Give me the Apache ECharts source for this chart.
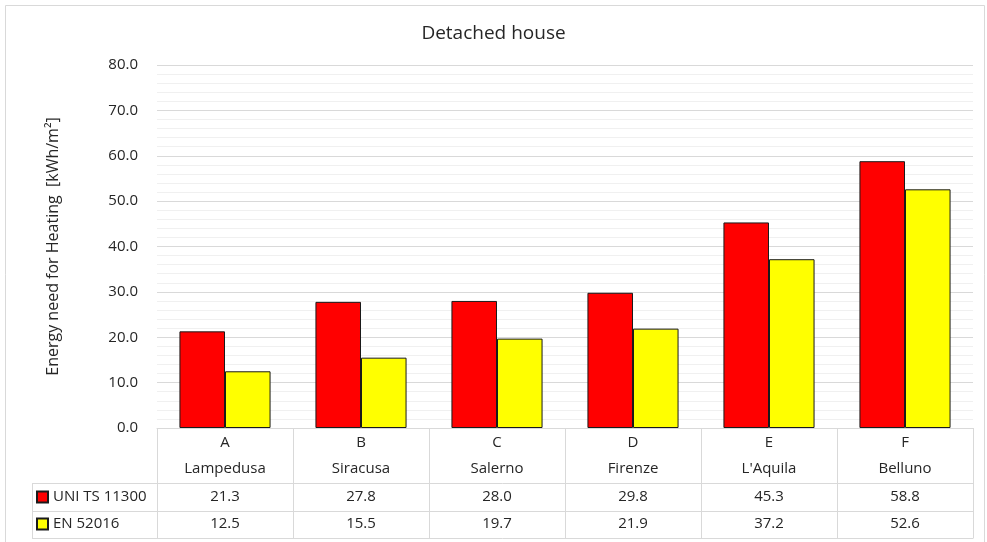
<!DOCTYPE html>
<html>
<head>
<meta charset="utf-8">
<script src="https://cdn.jsdelivr.net/npm/echarts@6/dist/echarts.min.js"></script>
<style>html,body{margin:0;padding:0;background:#fff}#c{width:987px;height:542px}</style>
</head>
<body>
<div id="c"></div>
<script>
const categories = ['A', 'B', 'C', 'D', 'E', 'F'];
const cities = ['Lampedusa', 'Siracusa', 'Salerno', 'Firenze', "L'Aquila", 'Belluno'];
const uniValues = [21.3, 27.8, 28.0, 29.8, 45.3, 58.8];
const enValues = [12.5, 15.5, 19.7, 21.9, 37.2, 52.6];
const seriesNames = ['UNI TS 11300', 'EN 52016'];
const seriesColors = ['#ff0000', '#ffff00'];
const yTicks = { min: 0, max: 80, interval: 10 };

const FONT = 'Open Sans';
const TXT = '#262626';
const LINE = '#d9d9d9';

const chart = echarts.init(document.getElementById('c'));
chart.setOption({
  animation: false,
  backgroundColor: '#fff',
  textStyle: { fontFamily: FONT },
  title: {
    text: 'Detached house', left: 'center', top: 19,
    textStyle: { fontFamily: FONT, fontSize: 19, fontWeight: 'normal', color: TXT }
  },
  grid: { left: 157, right: 14, top: 65, bottom: 114, containLabel: false },
  legend: {
    orient: 'vertical', left: 36, top: 487,
    itemWidth: 11, itemHeight: 11, itemGap: 7,
    icon: 'rect', padding: 0,
    textStyle: { fontFamily: FONT, fontSize: 15, color: TXT, lineHeight: 20 },
    data: seriesNames
  },
  xAxis: {
    type: 'category', data: categories,
    axisLine: { lineStyle: { color: LINE } },
    axisTick: { show: false },
    axisLabel: { show: false },
    splitLine: { show: false }
  },
  yAxis: {
    type: 'value', min: yTicks.min, max: yTicks.max, interval: yTicks.interval,
    name: 'Energy need for Heating  [kWh/m²]', nameLocation: 'middle', nameGap: 96,
    nameTextStyle: { fontFamily: FONT, fontSize: 16, color: TXT },
    axisLine: { show: false }, axisTick: { show: false },
    axisLabel: { formatter: v => v.toFixed(1), fontFamily: FONT, fontSize: 15, color: TXT, margin: 19 },
    splitLine: { lineStyle: { color: LINE, width: 1 } },
    minorTick: { show: false, splitNumber: 5 },
    minorSplitLine: { show: true, lineStyle: { color: '#f0f0f0', width: 1 } }
  },
  series: [
    { name: seriesNames[0], type: 'bar', data: uniValues, barGap: '0%', barCategoryGap: '33%',
      itemStyle: { color: seriesColors[0], borderColor: '#1a1a1a', borderWidth: 1 } },
    { name: seriesNames[1], type: 'bar', data: enValues,
      itemStyle: { color: seriesColors[1], borderColor: '#1a1a1a', borderWidth: 1 } }
  ]
});

function drawTable() {
  const p0 = chart.convertToPixel({ xAxisIndex: 0 }, 0);
  const p1 = chart.convertToPixel({ xAxisIndex: 0 }, 1);
  const cw = p1 - p0;
  const left = p0 - cw / 2;
  const right = left + categories.length * cw;
  const yTop = chart.convertToPixel({ yAxisIndex: 0 }, 0);
  const legLeft = 32;
  const rows = [55, 83, 110];
  const els = [];
  const ls = { stroke: LINE, lineWidth: 1 };
  const r = v => Math.round(v) + 0.5;
  rows.forEach(o => els.push({ type: 'line', shape: { x1: legLeft, y1: r(yTop + o), x2: right, y2: r(yTop + o) }, style: ls, silent: true }));
  for (let i = 0; i <= categories.length; i++) {
    const x = r(left + i * cw);
    els.push({ type: 'line', shape: { x1: x, y1: yTop, x2: x, y2: r(yTop + 110) }, style: ls, silent: true });
  }
  els.push({ type: 'line', shape: { x1: r(legLeft), y1: r(yTop + 55), x2: r(legLeft), y2: r(yTop + 110) }, style: ls, silent: true });
  const t = (x, y, s) => ({ type: 'text', x: x, y: y, silent: true,
    style: { text: s, fill: TXT, font: '15px "' + FONT + '"', align: 'center', verticalAlign: 'middle' } });
  categories.forEach((c, i) => {
    const cx = chart.convertToPixel({ xAxisIndex: 0 }, i);
    els.push(t(cx, yTop + 15, c));
    els.push(t(cx, yTop + 41, cities[i]));
    els.push(t(cx, yTop + 69, uniValues[i].toFixed(1)));
    els.push(t(cx, yTop + 96, enValues[i].toFixed(1)));
  });
  els.push({ type: 'rect', shape: { x: 5.5, y: 5.5, width: 979, height: 545 }, style: { fill: 'none', stroke: LINE, lineWidth: 1 }, silent: true });
  chart.setOption({ graphic: els });
}
drawTable();
</script>
</body>
</html>
